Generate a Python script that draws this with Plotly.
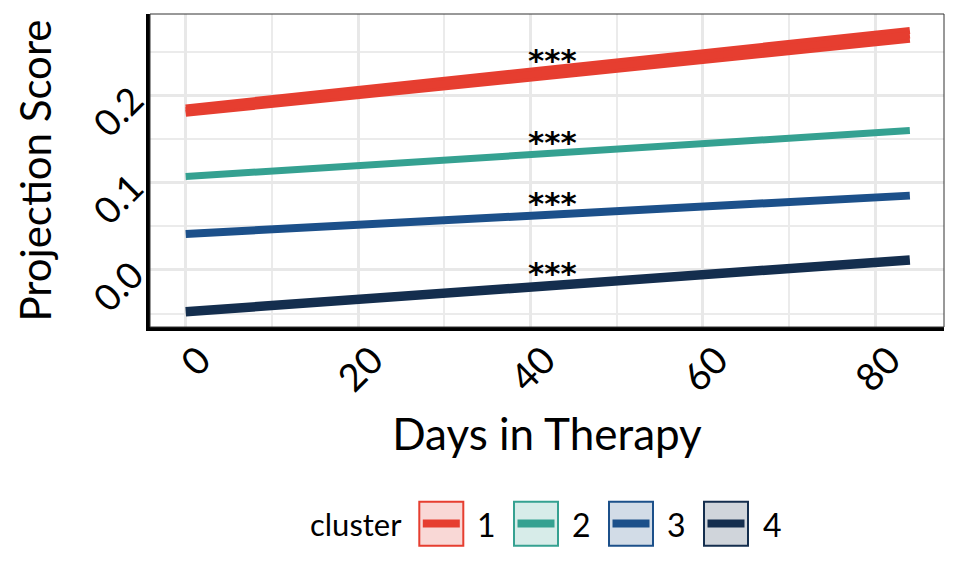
import plotly.graph_objects as go

# ---- data ----
days = [0, 84]
cluster_names = ["1", "2", "3", "4"]
cluster_colors = ["#E63E30", "#35A191", "#1C508A", "#142E4E"]
cluster_fill = ["#F9D8D6", "#D7ECE9", "#D2DCE7", "#D0D5DB"]
fit_values = {
    "1": [0.1824, 0.2690],
    "2": [0.1069, 0.1596],
    "3": [0.0412, 0.0851],
    "4": [-0.0478, 0.0115],
}
ci_lower = {"1": [0.1793, 0.2640]}
ci_upper = {"1": [0.1855, 0.2740]}
star_day = 40
star_labels = ["***", "***", "***", "***"]
star_y = [0.246, 0.1527, 0.0825, 0.0023]
x_ticks = [0, 20, 40, 60, 80]
y_ticks = [0.0, 0.1, 0.2]
y_tick_text = ["0.0", "0.1", "0.2"]

FONT = "Lato"
widths = {"1": 7, "2": 7, "3": 8, "4": 9.5}

fig = go.Figure()
for name, col in zip(cluster_names, cluster_colors):
    if name in ci_lower:
        for arr in (ci_lower[name], ci_upper[name]):
            fig.add_trace(go.Scatter(x=days, y=arr, mode="lines",
                                     line=dict(color=col, width=widths[name]),
                                     showlegend=False, hoverinfo="skip"))
    fig.add_trace(go.Scatter(x=days, y=fit_values[name], mode="lines",
                             line=dict(color=col, width=widths[name]),
                             name=name, showlegend=False))

for lab, yv in zip(star_labels, star_y):
    fig.add_annotation(x=star_day, y=yv, text="<b>" + lab + "</b>", showarrow=False,
                       font=dict(family="DejaVu Sans", size=31, color="black"),
                       xanchor="left", yanchor="middle", xshift=-5, yshift=-5)

# panel geometry in px
L, R, T, B = 150, 944, 14, 327
W, H = R - L, B - T
def px(x):
    return (x - L) / W
def py(y):
    return (B - y) / H

# panel border (top/right thin)
fig.add_shape(type="rect", xref="paper", yref="paper", x0=0, x1=1, y0=0, y1=1,
              line=dict(color="#333333", width=1), layer="above")

# manual legend
fig.add_annotation(xref="paper", yref="paper", x=px(356), y=py(524), text="cluster",
                   showarrow=False, font=dict(family=FONT, size=31, color="black"),
                   xanchor="center", yanchor="middle")
box_x0 = [419.3, 514, 609, 704]
lab_x = [486.7, 581.7, 676.7, 772.7]
for i, name in enumerate(cluster_names):
    x0 = box_x0[i]
    fig.add_shape(type="rect", xref="paper", yref="paper",
                  x0=px(x0), x1=px(x0 + 44), y0=py(545.7), y1=py(501.7),
                  fillcolor=cluster_fill[i], line=dict(color=cluster_colors[i], width=2))
    fig.add_shape(type="line", xref="paper", yref="paper",
                  x0=px(x0 + 3.5), x1=px(x0 + 40.5), y0=py(523.5), y1=py(523.5),
                  line=dict(color=cluster_colors[i], width=8))
    fig.add_annotation(xref="paper", yref="paper", x=px(lab_x[i]), y=py(524), text=name,
                       showarrow=False, font=dict(family=FONT, size=32, color="black"),
                       xanchor="center", yanchor="middle")

fig.update_layout(
    width=960, height=576,
    margin=dict(l=L, r=960 - R, t=T, b=576 - B),
    paper_bgcolor="white", plot_bgcolor="white",
    showlegend=False,
    font=dict(family=FONT, color="black"),
)
fig.update_xaxes(
    range=[-4.14, 87.96], tickvals=x_ticks, tickangle=-45,
    tickfont=dict(family=FONT, size=38, color="black"),
    showgrid=True, gridcolor="#E8E8E8", gridwidth=2.5,
    minor=dict(dtick=10, tick0=0, showgrid=True, gridcolor="#EBEBEB", gridwidth=1.5),
    showline=True, linecolor="black", linewidth=3.5, zeroline=False,
    ticks="", ticklabelstandoff=-8, ticklabelshift=14,
    title=dict(text="Days in Therapy", font=dict(family=FONT, size=44, color="black"), standoff=22),
)
fig.update_yaxes(
    range=[-0.0653, 0.293], tickvals=y_ticks, ticktext=y_tick_text, tickangle=-45,
    tickfont=dict(family=FONT, size=37, color="black"),
    showgrid=True, gridcolor="#E8E8E8", gridwidth=2.5,
    minor=dict(dtick=0.05, tick0=0, showgrid=True, gridcolor="#EBEBEB", gridwidth=1.5),
    showline=True, linecolor="black", linewidth=3.5, zeroline=False,
    ticks="", ticklabelstandoff=6,
    title=dict(text="Projection Score", font=dict(family=FONT, size=42, color="black"), standoff=20),
)

fig.write_html("out.html", post_script="document.body.style.margin='0px';",
               config={"displayModeBar": False})
